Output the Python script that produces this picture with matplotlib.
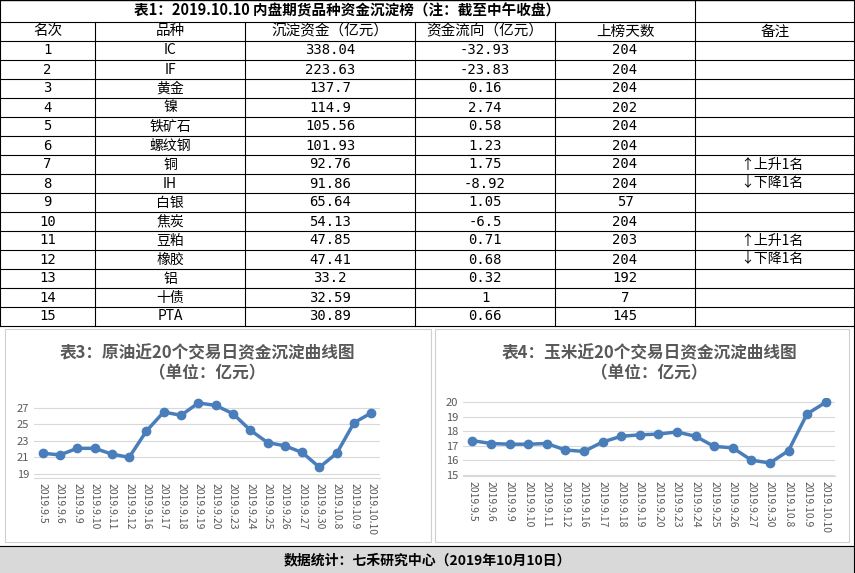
import matplotlib
matplotlib.use("Agg")
import matplotlib.pyplot as plt

plt.rcParams['font.family'] = ['Noto Sans CJK SC', 'DejaVu Sans']

title = "表1：2019.10.10 内盘期货品种资金沉淀榜（注：截至中午收盘）"
headers = ["名次", "品种", "沉淀资金（亿元）", "资金流向（亿元）", "上榜天数", "备注"]
ranks = list(range(1, 16))
names = ["IC", "IF", "黄金", "镍", "铁矿石", "螺纹钢", "铜", "IH", "白银", "焦炭",
         "豆粕", "橡胶", "铝", "十债", "PTA"]
funds = ["338.04", "223.63", "137.7", "114.9", "105.56", "101.93", "92.76", "91.86",
         "65.64", "54.13", "47.85", "47.41", "33.2", "32.59", "30.89"]
flows = ["-32.93", "-23.83", "0.16", "2.74", "0.58", "1.23", "1.75", "-8.92", "1.05",
         "-6.5", "0.71", "0.68", "0.32", "1", "0.66"]
days = ["204", "204", "204", "202", "204", "204", "204", "204", "57", "204", "203",
        "204", "192", "7", "145"]
notes = {7: "↑上升1名", 8: "↓下降1名", 11: "↑上升1名", 12: "↓下降1名"}

dates = ["2019.9.5", "2019.9.6", "2019.9.9", "2019.9.10", "2019.9.11", "2019.9.12",
         "2019.9.16", "2019.9.17", "2019.9.18", "2019.9.19", "2019.9.20", "2019.9.23",
         "2019.9.24", "2019.9.25", "2019.9.26", "2019.9.27", "2019.9.30", "2019.10.8",
         "2019.10.9", "2019.10.10"]
oil = [21.5, 21.3, 22.1, 22.1, 21.4, 21.0, 24.2, 26.5, 26.1, 27.6, 27.3, 26.3, 24.3,
       22.8, 22.4, 21.6, 19.8, 21.5, 25.2, 26.4]
corn = [17.35, 17.15, 17.1, 17.1, 17.15, 16.7, 16.6, 17.25, 17.65, 17.75, 17.8, 17.95,
        17.65, 16.95, 16.85, 16.0, 15.8, 16.65, 19.2, 20.0]

W, H = 855, 573
fig = plt.figure(figsize=(8.55, 5.73), dpi=100)
bg = fig.add_axes([0, 0, 1, 1])
bg.set_xlim(0, W)
bg.set_ylim(H, 0)
bg.axis("off")

cols = [0, 95, 245, 415, 555, 695, 855]
row_top = 22
row_h = 19
n_rows = 16
# table lines
bg.plot([0, W], [0, 0], color="black", lw=1)
bg.plot([695, 695], [0, row_top], color="black", lw=0.8)
for i in range(n_rows + 1):
    y = row_top + i * row_h
    bg.plot([0, W], [y, y], color="black", lw=0.8)
for x in cols:
    bg.plot([x, x], [row_top, row_top + n_rows * row_h], color="black", lw=0.8)
bg.plot([0, 0], [0, row_top], color="black", lw=0.8)
bg.plot([W - 1, W - 1], [0, H], color="black", lw=0.8)
bg.text(347, row_top / 2, title, ha="center", va="center", fontsize=10.5, weight="bold")

for j, h in enumerate(headers):
    bg.text((cols[j] + cols[j + 1]) / 2, row_top + row_h / 2, h, ha="center",
            va="center", fontsize=10.5)
for i in range(15):
    yc = row_top + (i + 1.5) * row_h
    vals = [str(ranks[i]), names[i], funds[i], flows[i], days[i]]
    for j, v in enumerate(vals):
        bg.text((cols[j] + cols[j + 1]) / 2, yc, v, ha="center", va="center",
                fontsize=10, family=["Noto Sans CJK SC", "DejaVu Sans"] if j == 1 else "DejaVu Sans Mono")
    if ranks[i] in notes:
        bg.text(740, yc, notes[ranks[i]], ha="left", va="center", fontsize=10)

# footer
bg.add_patch(plt.Rectangle((0, 546), W, 27, color="#d9d9d9", zorder=0))
bg.plot([0, W], [546, 546], color="black", lw=0.8)
bg.text(W / 2, 560, "数据统计：七禾研究中心（2019年10月10日）", ha="center",
        va="center", fontsize=10, weight="bold")
# chart borders
for x0, x1 in [(5, 431), (435, 849)]:
    bg.add_patch(plt.Rectangle((x0, 329), x1 - x0, 213, fill=False,
                               edgecolor="#d0d0d0", lw=0.8))


def line_chart(rect, vals, ylim, ticks, ttl):
    ax = fig.add_axes(rect)
    ax.plot(range(len(vals)), vals, color="#4a7ebb", lw=2.5, marker="o", ms=6)
    ax.set_ylim(*ylim)
    ax.set_yticks(ticks)
    ax.set_xlim(-0.5, len(vals) - 0.5)
    ax.set_xticks(range(len(vals)))
    ax.set_xticklabels(dates, rotation=270, fontsize=7.5, color="#595959")
    ax.tick_params(axis="y", labelsize=8, labelcolor="#595959", length=0)
    ax.tick_params(axis="x", length=0)
    ax.grid(axis="y", color="#d9d9d9", lw=0.8)
    ax.set_axisbelow(True)
    for s in ax.spines.values():
        s.set_visible(False)
    ax.spines["bottom"].set_visible(True)
    ax.spines["bottom"].set_color("#d9d9d9")
    ax.set_title(ttl, fontsize=12, weight="bold", color="#595959", pad=14)
    return ax


line_chart([34 / W, 1 - 478 / H, 346 / W, 80 / H], oil, (18.5, 28.2),
           [19, 21, 23, 25, 27], "表3：原油近20个交易日资金沉淀曲线图\n（单位：亿元）")
line_chart([463 / W, 1 - 476 / H, 372 / W, 78 / H], corn, (14.9, 20.3),
           [15, 16, 17, 18, 19, 20], "表4：玉米近20个交易日资金沉淀曲线图\n（单位：亿元）")

fig.savefig("out.png", dpi=100)
